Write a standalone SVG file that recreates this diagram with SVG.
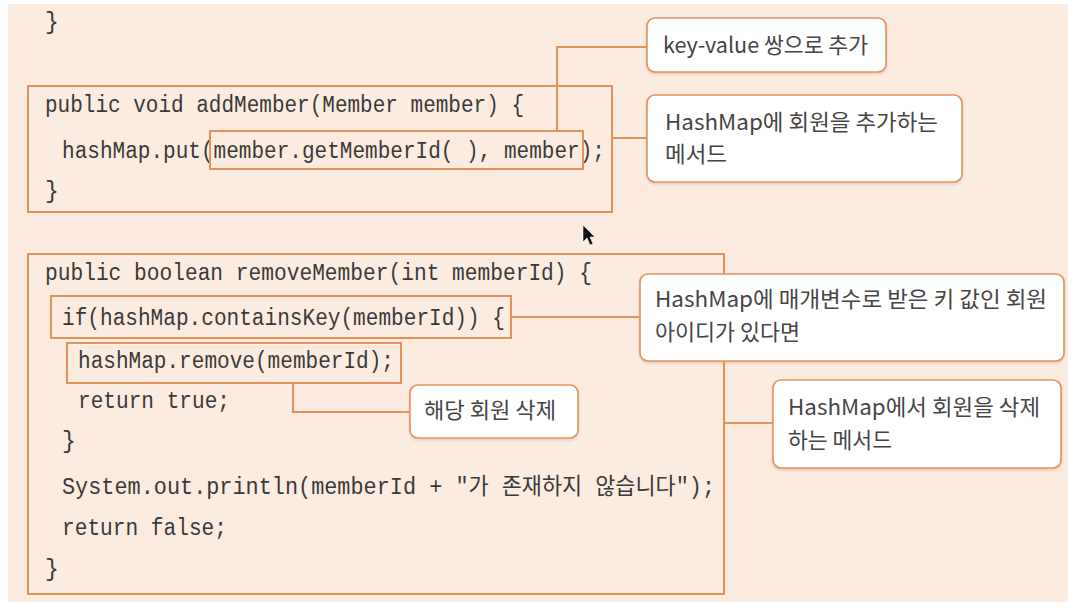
<svg xmlns="http://www.w3.org/2000/svg" width="1076" height="614" viewBox="0 0 1076 614">
<defs>
<style>
.code{font-family:"Liberation Mono","Noto Sans CJK KR",monospace;font-size:23px;fill:#3a3a3a;}
.note{font-family:"Noto Sans CJK KR","Noto Sans",sans-serif;font-size:21.5px;fill:#454545;}
.box{fill:none;stroke:#e3925c;stroke-width:2;}
.hl{fill:none;stroke:#e3925c;stroke-width:2;}
.callout{fill:#ffffff;stroke:#e3925c;stroke-width:1.6;filter:url(#sh);}
.conn{fill:none;stroke:#e3925c;stroke-width:2;}
</style>
<filter id="sh" x="-5%" y="-10%" width="110%" height="130%">
<feDropShadow dx="0" dy="1.5" stdDeviation="1.5" flood-color="#c9a58a" flood-opacity="0.5"/>
</filter>
</defs>
<rect x="0" y="0" width="1076" height="614" fill="#ffffff"/>
<rect x="8" y="4" width="1060" height="598" fill="#fcece0"/>

<g id="connectors">
<polyline class="conn" points="557,131 557,47 647,47"/>
<line class="conn" x1="612" y1="138" x2="647" y2="138"/>
<line class="conn" x1="511" y1="317" x2="640" y2="317"/>
<polyline class="conn" points="293,383 293,412 410,412"/>
<line class="conn" x1="724" y1="423" x2="773" y2="423"/>
</g>

<g id="top-brace">
<text class="code" x="45" y="29">}</text>
</g>

<g id="addMember">
<rect class="box" x="28" y="86" width="584" height="126"/>
<text class="code" x="45" y="112" textLength="479" lengthAdjust="spacingAndGlyphs">public void addMember(Member member) {</text>
<text class="code" x="62" y="158" textLength="543" lengthAdjust="spacingAndGlyphs">hashMap.put(member.getMemberId( ), member);</text>
<text class="code" x="45" y="198">}</text>
</g>
<g id="put-args">
<rect class="hl" x="210" y="131" width="373" height="38"/>
</g>

<g id="removeMember">
<rect class="box" x="28" y="254" width="696" height="340"/>
<text class="code" x="45" y="280" textLength="547" lengthAdjust="spacingAndGlyphs">public boolean removeMember(int memberId) {</text>
<text class="code" x="78" y="408" textLength="152" lengthAdjust="spacingAndGlyphs">return true;</text>
<text class="code" x="62" y="448">}</text>
<text class="code" x="62" y="494" textLength="653" lengthAdjust="spacingAndGlyphs">System.out.println(memberId + "가 존재하지 않습니다");</text>
<text class="code" x="62" y="535" textLength="165" lengthAdjust="spacingAndGlyphs">return false;</text>
<text class="code" x="45" y="576">}</text>
</g>
<g id="if-contains">
<rect class="hl" x="51" y="296" width="460" height="42"/>
<text class="code" x="62" y="325" textLength="443" lengthAdjust="spacingAndGlyphs">if(hashMap.containsKey(memberId)) {</text>
</g>
<g id="remove-call">
<rect class="hl" x="67" y="343" width="334" height="40"/>
<text class="code" x="78" y="368" textLength="316" lengthAdjust="spacingAndGlyphs">hashMap.remove(memberId);</text>
</g>

<g id="note-keyvalue">
<rect class="callout" x="647" y="18" width="239" height="54" rx="8"/>
<text class="note" x="663" y="53" textLength="205" lengthAdjust="spacingAndGlyphs">key-value 쌍으로 추가</text>
</g>
<g id="note-add">
<rect class="callout" x="647" y="95" width="315" height="87" rx="8"/>
<text class="note" x="665" y="130" textLength="273" lengthAdjust="spacingAndGlyphs">HashMap에 회원을 추가하는</text>
<text class="note" x="665" y="162" textLength="62" lengthAdjust="spacingAndGlyphs">메서드</text>
</g>
<g id="note-contains">
<rect class="callout" x="640" y="274" width="424" height="87" rx="8"/>
<text class="note" x="655" y="307" textLength="392" lengthAdjust="spacingAndGlyphs">HashMap에 매개변수로 받은 키 값인 회원</text>
<text class="note" x="655" y="340" textLength="145" lengthAdjust="spacingAndGlyphs">아이디가 있다면</text>
</g>
<g id="note-delete">
<rect class="callout" x="410" y="385" width="168" height="53" rx="8"/>
<text class="note" x="424" y="418" textLength="132" lengthAdjust="spacingAndGlyphs">해당 회원 삭제</text>
</g>
<g id="note-remove">
<rect class="callout" x="773" y="380" width="288" height="88" rx="8"/>
<text class="note" x="788" y="415" textLength="252" lengthAdjust="spacingAndGlyphs">HashMap에서 회원을 삭제</text>
<text class="note" x="788" y="448" textLength="104" lengthAdjust="spacingAndGlyphs">하는 메서드</text>
</g>

<g id="cursor">
<polygon points="583,225 583,242 587,238 590,245 593,244 590,237 595,237" fill="#111" stroke="#fff" stroke-width="0.6"/>
</g>
</svg>
